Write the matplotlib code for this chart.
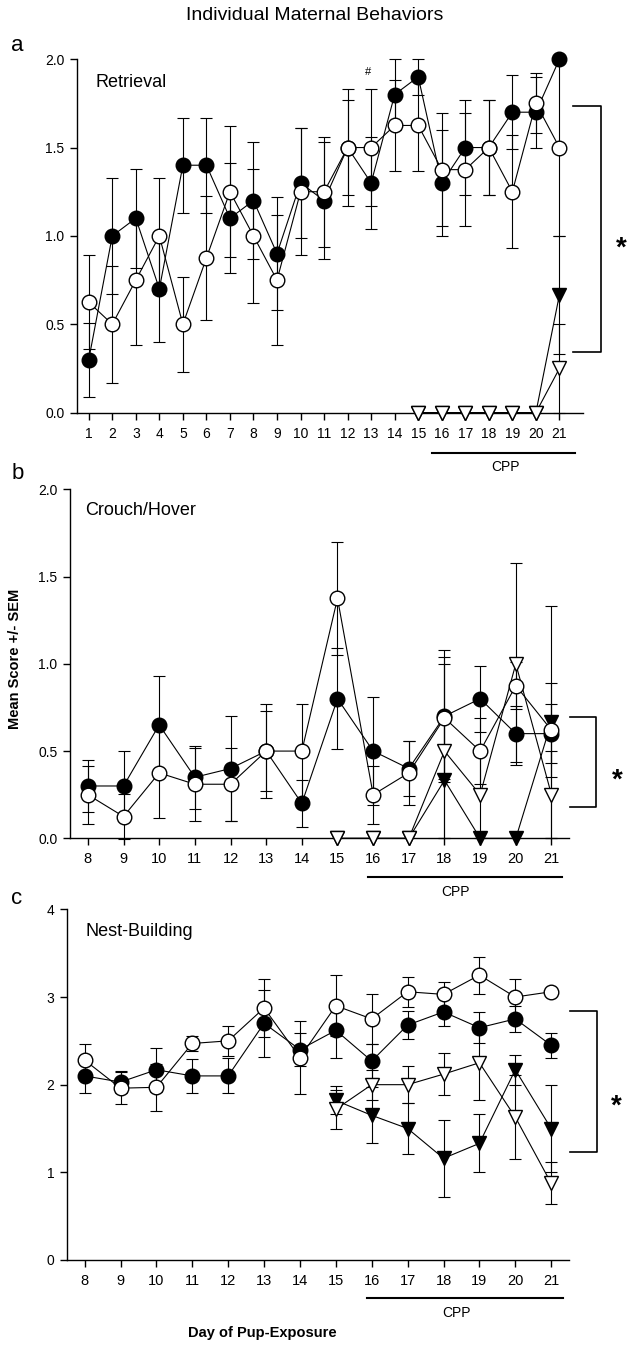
import matplotlib
matplotlib.use("Agg")
import matplotlib.pyplot as plt
import numpy as np

plt.rcParams['font.family'] = ['Liberation Sans', 'DejaVu Sans']

# ---- data ----
# a: Retrieval, days 1-21
ret_days = list(range(1, 22))
ret_fill = [0.30, 1.00, 1.10, 0.70, 1.40, 1.40, 1.10, 1.20, 0.90, 1.30, 1.20,
            1.50, 1.30, 1.80, 1.90, 1.30, 1.50, 1.50, 1.70, 1.70, 2.00]
ret_fill_sem = [0.21, 0.33, 0.28, 0.30, 0.27, 0.27, 0.31, 0.33, 0.32, 0.31, 0.33,
                0.33, 0.26, 0.20, 0.10, 0.30, 0.27, 0.27, 0.21, 0.20, 0.00]
ret_open = [0.625, 0.50, 0.75, 1.00, 0.50, 0.875, 1.25, 1.00, 0.75, 1.25, 1.25,
            1.50, 1.50, 1.625, 1.625, 1.375, 1.375, 1.50, 1.25, 1.75, 1.50]
ret_open_sem = [0.265, 0.33, 0.37, 0.33, 0.27, 0.35, 0.37, 0.38, 0.37, 0.36, 0.31,
                0.27, 0.33, 0.26, 0.26, 0.32, 0.32, 0.27, 0.32, 0.17, 0.50]
cpp_days = list(range(15, 22))
ret_tri_fill = [0, 0, 0, 0, 0, 0, 0.667]
ret_tri_fill_sem = [0, 0, 0, 0, 0, 0, 0.333]
ret_tri_open = [0, 0, 0, 0, 0, 0, 0.25]
ret_tri_open_sem = [0, 0, 0, 0, 0, 0, 0.25]

# b: Crouch/Hover and c: Nest-Building, days 8-21
days = list(range(8, 22))
ch_fill = [0.30, 0.30, 0.65, 0.35, 0.40, 0.50, 0.20, 0.80, 0.50, 0.40, 0.70, 0.80, 0.60, 0.60]
ch_fill_sem = [0.15, 0.20, 0.28, 0.18, 0.30, 0.27, 0.135, 0.29, 0.31, 0.16, 0.38, 0.19, 0.16, 0.17]
ch_open = [0.25, 0.125, 0.375, 0.31, 0.31, 0.50, 0.50, 1.375, 0.25, 0.375, 0.69, 0.50, 0.875, 0.62]
ch_open_sem = [0.165, 0.13, 0.26, 0.21, 0.21, 0.23, 0.27, 0.325, 0.165, 0.185, 0.35, 0.19, 0.135, 0.27]
ch_tri_fill = [0, 0, 0, 0.333, 0, 0, 0.667]
ch_tri_fill_sem = [0, 0, 0, 0.333, 0, 0, 0.667]
ch_tri_open = [0, 0, 0, 0.5, 0.25, 1.0, 0.25]
ch_tri_open_sem = [0, 0, 0, 0.5, 0.25, 0.58, 0.25]

nb_fill = [2.10, 2.03, 2.17, 2.10, 2.10, 2.70, 2.40, 2.62, 2.27, 2.68, 2.83, 2.65, 2.75, 2.45]
nb_fill_sem = [0.19, 0.13, 0.25, 0.19, 0.20, 0.38, 0.19, 0.31, 0.19, 0.16, 0.16, 0.18, 0.15, 0.14]
nb_open = [2.28, 1.96, 1.97, 2.47, 2.50, 2.875, 2.31, 2.90, 2.75, 3.06, 3.03, 3.25, 3.00, 3.06]
nb_open_sem = [0.18, 0.18, 0.27, 0.09, 0.17, 0.33, 0.42, 0.35, 0.29, 0.17, 0.14, 0.21, 0.21, 0.0]
nb_tri_fill = [1.82, 1.65, 1.50, 1.16, 1.33, 2.17, 1.50]
nb_tri_fill_sem = [0.16, 0.32, 0.29, 0.44, 0.33, 0.17, 0.50]
nb_tri_open = [1.72, 2.00, 2.00, 2.12, 2.25, 1.63, 0.875]
nb_tri_open_sem = [0.22, 0.17, 0.21, 0.24, 0.43, 0.48, 0.24]

LW = 0.8
MS = 10.5


def series(ax, x, y, e, marker, filled, z):
    x = np.asarray(x)
    y = np.asarray(y)
    e = np.asarray(e)
    m = e > 0
    if m.any():
        ax.errorbar(x[m], y[m], yerr=e[m], fmt='none', ecolor='black',
                    elinewidth=LW, capsize=4.5, capthick=LW, zorder=2, clip_on=False)
    ax.plot(x, y, '-', color='black', lw=LW, marker=marker, ms=MS,
            mfc='black' if filled else 'white', mec='black', mew=1.0,
            zorder=z, clip_on=False)


def style(ax, xlim, ylim, yticks, yfmt, xsize):
    ax.set_xlim(*xlim)
    ax.set_ylim(*ylim)
    ax.set_yticks(yticks)
    ax.set_yticklabels([yfmt.format(t) for t in yticks])
    for s in ('top', 'right'):
        ax.spines[s].set_visible(False)
    for s in ('left', 'bottom'):
        ax.spines[s].set_linewidth(1.0)
    ax.tick_params(direction='out', length=5, width=1.0, labelsize=10, pad=4)
    ax.tick_params(axis='x', labelsize=xsize, pad=5)


def cpp(ax, x0, x1, xt, yl, yt):
    tr = ax.get_xaxis_transform()
    ax.plot([x0, x1], [yl, yl], color='black', lw=1.5, transform=tr, clip_on=False)
    ax.text(xt, yt, 'CPP', transform=tr, ha='center', va='center', fontsize=10)


def bracket(ax, x0, x1, y0, y1, xs, ys):
    ax.plot([x0, x1, x1, x0], [y0, y0, y1, y1], color='black', lw=1.2, clip_on=False)
    ax.text(xs, ys, '*', ha='center', va='center', fontsize=20, fontweight='bold')


fig = plt.figure(figsize=(6.32, 13.45), dpi=100)

# ---- a ----
ax = fig.add_axes([0.1218, 0.6932, 0.8006, 0.2628])
series(ax, cpp_days, ret_tri_fill, ret_tri_fill_sem, 'v', True, 3)
series(ax, cpp_days, ret_tri_open, ret_tri_open_sem, 'v', False, 4)
series(ax, ret_days, ret_fill, ret_fill_sem, 'o', True, 5)
series(ax, ret_days, ret_open, ret_open_sem, 'o', False, 6)
style(ax, (0.5, 22), (0, 2), [0, 0.5, 1.0, 1.5, 2.0], '{:.1f}', 10)
ax.set_xticks(ret_days)
ax.text(0.036, 0.933, 'Retrieval', transform=ax.transAxes, fontsize=13, va='center')
ax.text(12.86, 1.93, '#', fontsize=8, ha='center', va='center')
cpp(ax, 15.58, 21.66, 18.71, -0.114, -0.154)
bracket(ax, 21.59, 22.78, 1.736, 0.345, 23.63, 0.93)

# ---- b ----
ax = fig.add_axes([0.1108, 0.3767, 0.790, 0.2595])
series(ax, cpp_days, ch_tri_fill, ch_tri_fill_sem, 'v', True, 3)
series(ax, cpp_days, ch_tri_open, ch_tri_open_sem, 'v', False, 4)
series(ax, days, ch_fill, ch_fill_sem, 'o', True, 5)
series(ax, days, ch_open, ch_open_sem, 'o', False, 6)
style(ax, (7.5, 21.5), (0, 2), [0, 0.5, 1.0, 1.5, 2.0], '{:.1f}', 10.5)
ax.set_xticks(days)
ax.text(0.031, 0.939, 'Crouch/Hover', transform=ax.transAxes, fontsize=13, va='center')
cpp(ax, 15.85, 21.29, 18.32, -0.112, -0.153)
bracket(ax, 21.51, 22.26, 0.697, 0.181, 22.85, 0.33)

# ---- c ----
ax = fig.add_axes([0.1055, 0.0632, 0.795, 0.2607])
series(ax, cpp_days, nb_tri_fill, nb_tri_fill_sem, 'v', True, 3)
series(ax, cpp_days, nb_tri_open, nb_tri_open_sem, 'v', False, 4)
series(ax, days, nb_fill, nb_fill_sem, 'o', True, 5)
series(ax, days, nb_open, nb_open_sem, 'o', False, 6)
style(ax, (7.5, 21.5), (0, 4), [0, 1, 2, 3, 4], '{:d}', 10.5)
ax.set_xticks(days)
ax.text(0.038, 0.936, 'Nest-Building', transform=ax.transAxes, fontsize=13, va='center')
cpp(ax, 15.86, 21.32, 18.35, -0.109, -0.151)
bracket(ax, 21.53, 22.27, 2.84, 1.23, 22.82, 1.75)

# ---- figure texts ----
fig.text(0.498, 0.9888, 'Individual Maternal Behaviors', ha='center', va='center', fontsize=14)
fig.text(0.027, 0.9665, 'a', ha='center', va='center', fontsize=16)
fig.text(0.028, 0.6483, 'b', ha='center', va='center', fontsize=16)
fig.text(0.027, 0.3323, 'c', ha='center', va='center', fontsize=16)
fig.text(0.0237, 0.51, 'Mean Score +/- SEM', rotation=90, ha='center', va='center',
         fontsize=10.5, fontweight='bold')
fig.text(0.4146, 0.0089, 'Day of Pup-Exposure', ha='center', va='center',
         fontsize=10.5, fontweight='bold')

fig.savefig('out.png', dpi=100)
